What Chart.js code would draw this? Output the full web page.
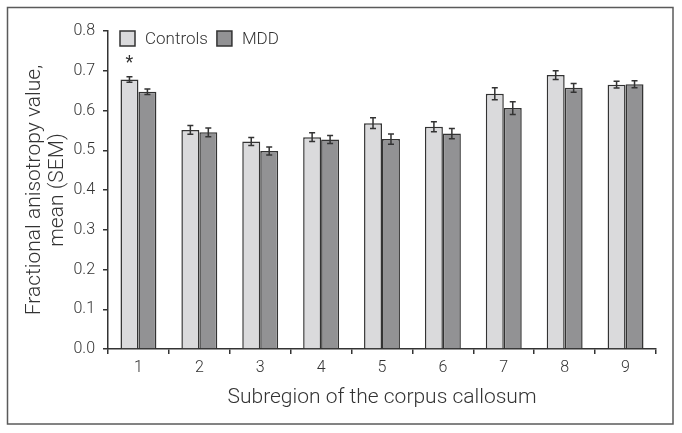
<!DOCTYPE html>
<html>
<head>
<meta charset="utf-8">
<script src="https://cdn.jsdelivr.net/npm/chart.js@4/dist/chart.umd.min.js"></script>
<style>
html,body{margin:0;padding:0;background:#fff;}
#wrap{width:682px;height:433px;position:relative;}
</style>
</head>
<body>
<div id="wrap"><canvas id="c" width="682" height="433"></canvas></div>
<script>
const categories = ['1','2','3','4','5','6','7','8','9'];
const controlsMean = [0.678,0.551,0.522,0.533,0.568,0.559,0.642,0.689,0.665];
const controlsSEM  = [0.007,0.011,0.010,0.011,0.0135,0.0125,0.015,0.011,0.0085];
const mddMean      = [0.647,0.545,0.498,0.527,0.528,0.542,0.606,0.657,0.666];
const mddSEM       = [0.007,0.011,0.010,0.010,0.013,0.013,0.016,0.011,0.009];
const significant  = ['*','','','','','','','',''];
const yTicks = [0,0.1,0.2,0.3,0.4,0.5,0.6,0.7,0.8];

const FONT = 'Roboto, "Liberation Sans", Arial, sans-serif';
const TXT = '#333333';
const EDGE = '#333333';

const errorBars = {
  id: 'errorBars',
  afterDatasetsDraw(chart) {
    const ctx = chart.ctx;
    const y = chart.scales.y;
    ctx.save();
    ctx.strokeStyle = EDGE;
    ctx.lineWidth = 1.5;
    chart.data.datasets.forEach((ds, di) => {
      const meta = chart.getDatasetMeta(di);
      meta.data.forEach((bar, i) => {
        const m = ds.data[i], e = ds.sem[i];
        const yt = y.getPixelForValue(m + e), yb = y.getPixelForValue(m - e);
        const x = bar.x, cap = 3;
        ctx.beginPath();
        ctx.moveTo(x, yt); ctx.lineTo(x, yb);
        ctx.moveTo(x - cap, yt); ctx.lineTo(x + cap, yt);
        ctx.moveTo(x - cap, yb); ctx.lineTo(x + cap, yb);
        ctx.stroke();
        if (ds.marks && ds.marks[i]) {
          ctx.fillStyle = TXT;
          ctx.font = '400 18px ' + FONT;
          ctx.textAlign = 'center';
          ctx.textBaseline = 'middle';
          ctx.fillText(ds.marks[i], x, yt - 13);
        }
      });
    });
    ctx.restore();
  }
};

const customLegend = {
  id: 'customLegend',
  afterDraw(chart) {
    const ctx = chart.ctx;
    ctx.save();
    const items = chart.data.datasets.map(d => ({label: d.label, color: d.backgroundColor}));
    let x = 120;
    const top = 31, size = 15;
    ctx.font = '300 17px ' + FONT;
    ctx.textBaseline = 'middle';
    ctx.textAlign = 'left';
    items.forEach(it => {
      ctx.fillStyle = it.color;
      ctx.fillRect(x, top, size, size);
      ctx.strokeStyle = EDGE;
      ctx.lineWidth = 1.5;
      ctx.strokeRect(x, top, size, size);
      ctx.fillStyle = TXT;
      ctx.fillText(it.label, x + size + 10, top + size / 2 + 1);
      x += size + 10 + ctx.measureText(it.label).width + 9;
    });
    // outer frame
    ctx.strokeStyle = '#5a5a5a';
    ctx.lineWidth = 1.5;
    ctx.strokeRect(7.5, 7.5, 665.5, 416.5);
    ctx.restore();
  }
};

new Chart(document.getElementById('c'), {
  type: 'bar',
  data: {
    labels: categories,
    datasets: [
      {label: 'Controls', data: controlsMean, sem: controlsSEM, marks: significant,
       backgroundColor: '#dadadc', borderColor: EDGE, borderWidth: 1.5,
       categoryPercentage: 0.59, barPercentage: 1.0},
      {label: 'MDD', data: mddMean, sem: mddSEM,
       backgroundColor: '#929294', borderColor: EDGE, borderWidth: 1.5,
       categoryPercentage: 0.59, barPercentage: 1.0}
    ]
  },
  options: {
    responsive: false,
    animation: false,
    devicePixelRatio: 1,
    layout: {padding: {left: 0, top: 31, right: 26, bottom: 0}},
    plugins: {legend: {display: false}, tooltip: {enabled: false}},
    scales: {
      x: {
        grid: {display: true, offset: true, drawOnChartArea: false, drawTicks: true, tickLength: 5, color: EDGE, lineWidth: 1.5},
        border: {display: true, color: EDGE, width: 1.5},
        ticks: {color: TXT, font: {family: FONT, size: 16, weight: 300}, padding: 4},
        title: {display: true, text: 'Subregion of the corpus callosum', color: TXT,
                font: {family: FONT, size: 21, weight: 300, lineHeight: 1.1}, padding: {top: 0, bottom: 24}},
        afterFit(s) { s.height = 84; }
      },
      y: {
        min: 0, max: 0.8,
        afterBuildTicks(s) { s.ticks = yTicks.map(v => ({value: v})); },
        grid: {display: true, drawOnChartArea: false, drawTicks: true, tickLength: 5, color: EDGE, lineWidth: 1.5},
        border: {display: true, color: EDGE, width: 1.5},
        ticks: {color: TXT, font: {family: FONT, size: 16, weight: 300}, padding: 8,
                callback: v => Number(v).toFixed(1)},
        title: {display: true, text: ['Fractional anisotropy value,', 'mean (SEM)'], color: TXT,
                font: {family: FONT, size: 21, weight: 300, lineHeight: 1.1}, padding: {top: 23, bottom: 0}},
        afterFit(s) { s.width = 108; }
      }
    }
  },
  plugins: [errorBars, customLegend]
});
</script>
</body>
</html>
